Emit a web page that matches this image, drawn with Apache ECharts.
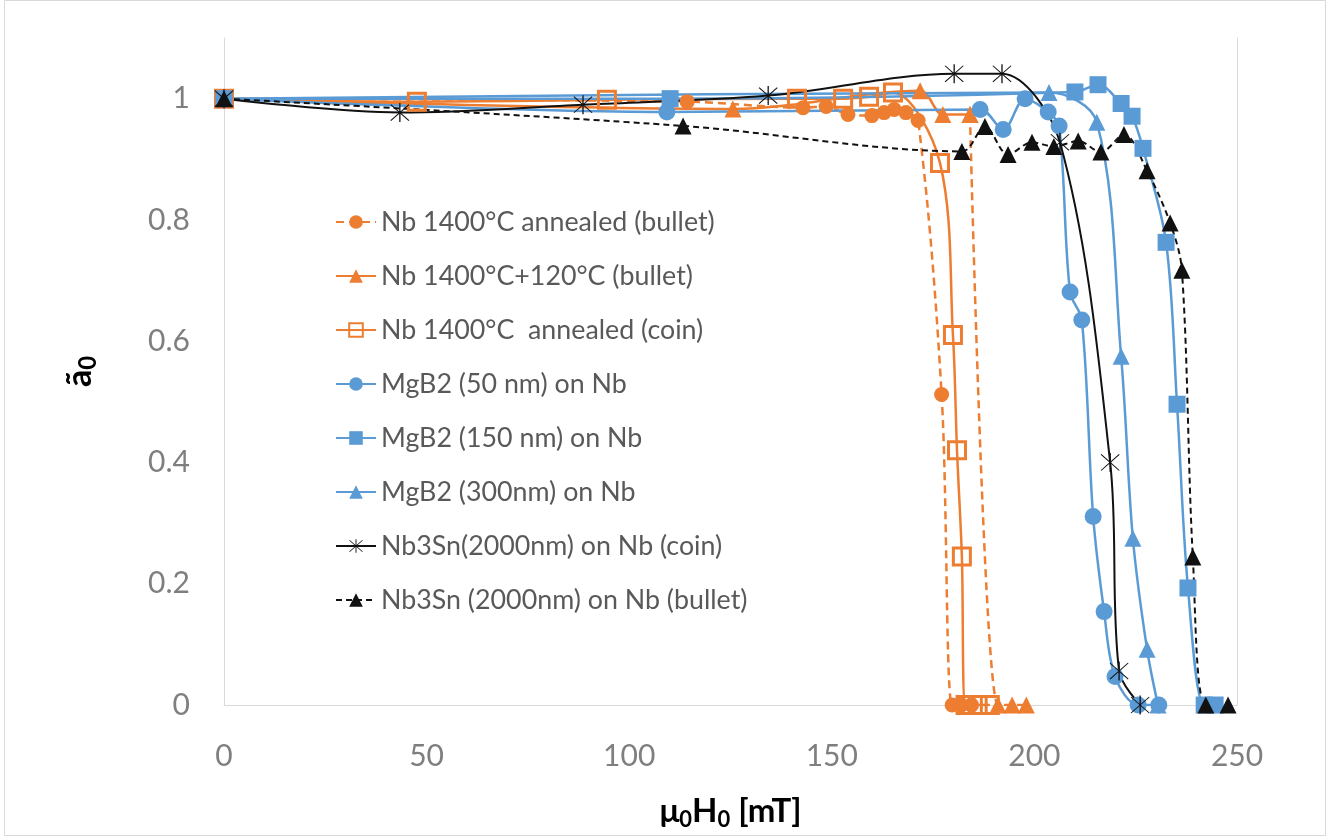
<!DOCTYPE html>
<html>
<head>
<meta charset="utf-8">
<script src="https://cdn.jsdelivr.net/npm/echarts@6/dist/echarts.min.js"></script>
<style>
html,body{margin:0;padding:0;background:#fff;}
#chart{width:1330px;height:836px;}
</style>
</head>
<body>
<div id="chart"></div>
<script>
// ---- data (x = μ0H0 [mT], y = ã0) ----
const seriesNames = [
  'Nb 1400°C annealed (bullet)',
  'Nb 1400°C+120°C (bullet)',
  'Nb 1400°C  annealed (coin)',
  'MgB2 (50 nm) on Nb',
  'MgB2 (150 nm) on Nb',
  'MgB2 (300nm) on Nb',
  'Nb3Sn(2000nm) on Nb (coin)',
  'Nb3Sn (2000nm) on Nb (bullet)'
];
const nbBulletX = [0, 114.3, 142.9, 148.6, 154.0, 159.9, 162.9, 165.4, 168.3, 171.3, 177.1, 179.7, 182, 184.5];
const nbBulletY = [1, 0.995, 0.985, 0.987, 0.974, 0.972, 0.977, 0.982, 0.977, 0.964, 0.512, 0, 0, 0];
const nb120X = [0, 125.6, 171.8, 177.4, 184.1, 191, 194.5, 198];
const nb120Y = [1, 0.983, 1.013, 0.974, 0.974, 0, 0, 0];
const nb120DashFrom = 4; // the drop after this point is drawn dashed in the reference
const nbCoinX = [0, 47.6, 94.5, 141.4, 152.8, 159.2, 165.1, 176.7, 179.9, 180.9, 182.1, 183, 186, 189];
const nbCoinY = [1, 0.995, 0.998, 1.0, 1.0, 1.003, 1.01, 0.894, 0.61, 0.42, 0.245, 0, 0, 0];
const mg50X = [0, 109.3, 186.6, 192.3, 197.7, 203.4, 206.1, 208.8, 211.7, 214.5, 217.2, 219.9, 225.6, 230.7];
const mg50Y = [1, 0.978, 0.982, 0.949, 1.0, 0.978, 0.955, 0.681, 0.635, 0.311, 0.154, 0.047, 0, 0];
const mg150X = [0, 110.1, 210.0, 215.7, 221.4, 224.1, 226.8, 232.5, 235.2, 237.9, 241.9, 244.6];
const mg150Y = [1, 1.0, 1.011, 1.023, 0.992, 0.971, 0.918, 0.763, 0.496, 0.193, 0, 0];
const mg300X = [0, 203.6, 215.4, 221.4, 224.3, 227.8, 230.5];
const mg300Y = [1, 1.01, 0.961, 0.575, 0.275, 0.092, 0];
const snCoinX = [0, 43.4, 88.6, 134.3, 180.2, 192.0, 206.3, 218.7, 220.9, 226.1];
const snCoinY = [1, 0.977, 0.99, 1.005, 1.041, 1.041, 0.928, 0.4, 0.056, 0];
const snBulletX = [0, 113.3, 182.1, 187.8, 193.5, 199.4, 204.8, 210.8, 216.4, 222.1, 227.8, 233.5, 236.4, 239.1, 242.3, 247.8];
const snBulletY = [1, 0.955, 0.913, 0.954, 0.908, 0.928, 0.921, 0.930, 0.912, 0.941, 0.881, 0.795, 0.717, 0.244, 0, 0];
const xTickValues = [0, 50, 100, 150, 200, 250];
const yTickValues = [0, 0.2, 0.4, 0.6, 0.8, 1];

// ---- helpers ----
const zip = (xs, ys) => xs.map((x, i) => [x, ys[i]]);
const ORANGE = '#ED7D31', BLUE = '#5B9BD5', BLACK = '#111111';
const FONT = 'Lato, "Open Sans", sans-serif';
const SMOOTH = 0.33;
const asterisk = 'path://M9.4,0H10.6V20H9.4Z M1.2,1.9L1.9,1.2L18.8,18.1L18.1,18.8Z M18.1,1.2L18.8,1.9L1.9,18.8L1.2,18.1Z';

function lineSeries(name, data, color, symbol, size, dashed, extra) {
  return Object.assign({
    name, type: 'line', data, smooth: SMOOTH, symbol, symbolSize: size,
    lineStyle: { color, width: 2.5, type: dashed ? [8, 5] : 'solid' },
    itemStyle: { color, borderWidth: 0 },
    emphasis: { disabled: true }, animation: false
  }, extra || {});
}

const nb120All = zip(nb120X, nb120Y);
const series = [
  lineSeries(seriesNames[0], zip(nbBulletX, nbBulletY), ORANGE, 'circle', 15, true),
  lineSeries(seriesNames[1], nb120All.slice(0, nb120DashFrom + 1), ORANGE, 'triangle', 17, false),
  lineSeries(seriesNames[1], nb120All.slice(nb120DashFrom), ORANGE, 'triangle', 17, true),
  lineSeries(seriesNames[2], zip(nbCoinX, nbCoinY), ORANGE, 'rect', 17, false,
    { itemStyle: { color: 'rgba(255,255,255,0)', borderColor: ORANGE, borderWidth: 3 } }),
  lineSeries(seriesNames[3], zip(mg50X, mg50Y), BLUE, 'circle', 17, false),
  lineSeries(seriesNames[4], zip(mg150X, mg150Y), BLUE, 'rect', 17, false),
  lineSeries(seriesNames[5], zip(mg300X, mg300Y), BLUE, 'triangle', 17, false),
  lineSeries(seriesNames[6], zip(snCoinX, snCoinY), BLACK, asterisk, 19, false,
    { lineStyle: { color: BLACK, width: 2 } }),
  lineSeries(seriesNames[7], zip(snBulletX, snBulletY), BLACK, 'triangle', 17, true,
    { lineStyle: { color: BLACK, width: 2, type: [6, 4] } })
];

const chart = echarts.init(document.getElementById('chart'), null, { renderer: 'canvas' });
chart.setOption({
  backgroundColor: '#fff',
  animation: false,
  graphic: [{
    type: 'rect', silent: true, z: -1,
    shape: { x: 4.5, y: 0.5, width: 1321, height: 835 },
    style: { fill: 'none', stroke: '#d9d9d9', lineWidth: 1 }
  }],
  grid: { left: 224, right: 93, top: 38, bottom: 126, containLabel: false },
  legend: {
    data: seriesNames, orient: 'vertical', left: 330, top: 202,
    itemWidth: 40, itemHeight: 17, itemGap: 24,
    textStyle: { fontSize: 26.8, color: '#595959', fontFamily: FONT, lineHeight: 30 },
    selectedMode: false
  },
  xAxis: {
    type: 'value', min: xTickValues[0], max: xTickValues[xTickValues.length - 1],
    interval: xTickValues[1] - xTickValues[0],
    axisLine: { show: true, lineStyle: { color: '#d9d9d9', width: 1 } },
    axisTick: { show: false }, splitLine: { show: false },
    axisLabel: { color: '#7f7f7f', fontSize: 30, fontFamily: FONT, margin: 36 },
    name: '{a|μ}{s|0}{a|H}{s|0}{a| [mT]}', nameLocation: 'middle', nameGap: 86,
    nameTextStyle: {
      rich: {
        a: { fontSize: 33, fontWeight: 'bold', color: '#000', fontFamily: FONT, lineHeight: 40 },
        s: { fontSize: 22, fontWeight: 'bold', color: '#000', fontFamily: FONT, lineHeight: 40, verticalAlign: 'bottom', padding: [14, 0, 0, 0] }
      }
    }
  },
  yAxis: [{
    type: 'value', min: 0, max: 1.1, interval: yTickValues[1] - yTickValues[0],
    axisLine: { show: true, lineStyle: { color: '#d9d9d9', width: 1 } },
    axisTick: { show: false }, splitLine: { show: false },
    axisLabel: {
      color: '#7f7f7f', fontSize: 30, fontFamily: FONT, margin: 34, showMaxLabel: false,
      formatter: v => (yTickValues.some(t => Math.abs(t - v) < 1e-9) ? (v === 0 || v === 1 ? String(v) : v.toFixed(1)) : '')
    },
    name: '{a|ã}{s|0}', nameLocation: 'middle', nameGap: 124, nameRotate: 90,
    nameTextStyle: {
      rich: {
        a: { fontSize: 34, fontWeight: 'bold', color: '#000', fontFamily: FONT, lineHeight: 40 },
        s: { fontSize: 24, fontWeight: 'bold', color: '#000', fontFamily: FONT, lineHeight: 40, verticalAlign: 'bottom', padding: [12, 0, 0, 0] }
      }
    }
  }, {
    type: 'value', min: 0, max: 1.1, position: 'right',
    axisLine: { show: true, lineStyle: { color: '#d9d9d9', width: 1 } },
    axisTick: { show: false }, splitLine: { show: false }, axisLabel: { show: false }
  }],
  series
});
</script>
</body>
</html>
